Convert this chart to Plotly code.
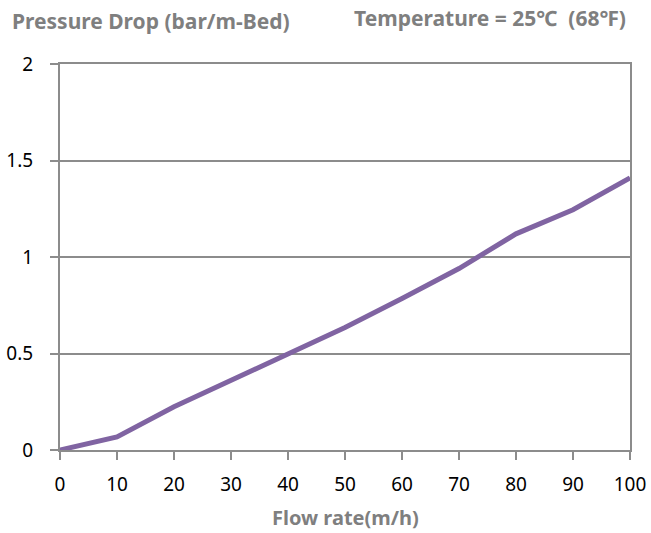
import plotly.graph_objects as go

flow_rate = [0, 10, 20, 30, 40, 50, 60, 70, 80, 90, 100]
pressure_drop = [0.0, 0.068, 0.224, 0.36, 0.50, 0.635, 0.785, 0.94, 1.12, 1.245, 1.41]
x_ticks = [0, 10, 20, 30, 40, 50, 60, 70, 80, 90, 100]
y_ticks = [0, 0.5, 1, 1.5, 2]
y_tick_labels = ["0", "0.5", "1", "1.5", "2"]

axis_grey = "#8c8c8c"
title_grey = "#7f7f7f"
font_family = "Noto Sans"

fig = go.Figure()
fig.add_trace(go.Scatter(
    x=flow_rate, y=pressure_drop, mode="lines",
    line=dict(color="#8064a2", width=5),
    showlegend=False, hoverinfo="skip",
))

fig.update_layout(
    width=651, height=533,
    margin=dict(l=60, r=20.5, t=63.5, b=83, autoexpand=False),
    paper_bgcolor="white", plot_bgcolor="white",
    font=dict(family=font_family, color="#000000", size=19),
    xaxis=dict(
        range=[0, 100], tickvals=x_ticks, ticktext=[str(v) for v in x_ticks],
        showgrid=False, zeroline=False, automargin=False,
        showline=True, linecolor=axis_grey, linewidth=2, mirror=True,
        ticks="outside", ticklen=8, tickcolor=axis_grey, tickwidth=2,
        ticklabelstandoff=8,
        tickfont=dict(size=19, family=font_family, color="#000"),
    ),
    yaxis=dict(
        range=[0, 2], tickvals=y_ticks, ticktext=y_tick_labels,
        showgrid=True, gridcolor=axis_grey, gridwidth=2, zeroline=False, automargin=False,
        showline=True, linecolor=axis_grey, linewidth=2, mirror=True,
        ticks="outside", ticklen=8, tickcolor=axis_grey, tickwidth=2,
        ticklabelstandoff=13,
        tickfont=dict(size=19, family=font_family, color="#000"),
    ),
    annotations=[
        dict(text="<b>Pressure Drop (bar/m-Bed)</b>", xref="paper", yref="paper",
             x=-0.0876, y=1.1125, xanchor="left", yanchor="middle", showarrow=False,
             font=dict(size=21, color=title_grey, family=font_family)),
        dict(text="<b>Temperature = 25℃\u00a0\u00a0(68℉)</b>", xref="paper", yref="paper",
             x=0.997, y=1.118, xanchor="right", yanchor="middle", showarrow=False,
             font=dict(size=21, color=title_grey, family=font_family)),
        dict(text="<b>Flow rate(m/h)</b>", xref="paper", yref="paper",
             x=0.5, y=-0.176, xanchor="center", yanchor="middle", showarrow=False,
             font=dict(size=20, color=title_grey, family=font_family)),
    ],
)

fig.write_html("out.html", config={"displayModeBar": False},
               post_script="document.body.style.margin='0';document.body.style.overflow='hidden';")
